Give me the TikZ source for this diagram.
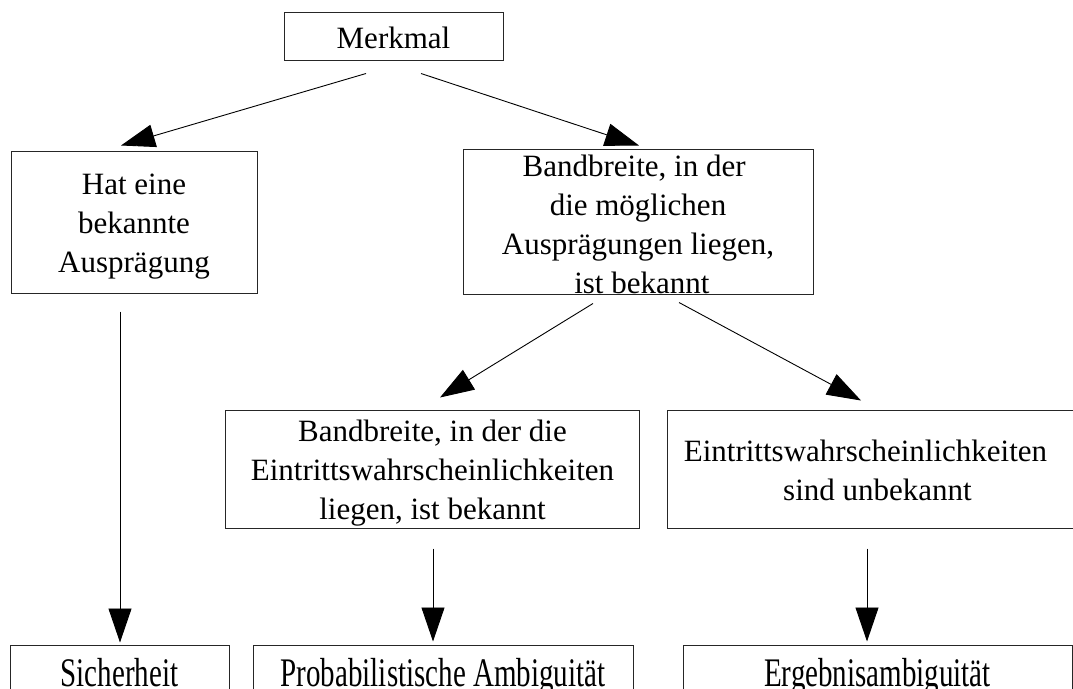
\documentclass[tikz,border=0pt]{standalone}
\usepackage{fontspec}
\usepackage{graphicx}
\setmainfont{Liberation Serif}
\usetikzlibrary{arrows.meta,calc}

\tikzset{
  box/.style={draw=black!85, line width=1pt, rectangle, inner sep=0pt},
  txt/.style={inner sep=0pt, align=center, font=\fontsize{31}{39}\selectfont},
  btxt/.style={inner sep=0pt, font=\fontsize{29}{35}\selectfont},
  arr/.style={line width=0.9pt, -{Triangle[length=34pt,width=23pt]}},
}

\begin{document}
\begin{tikzpicture}[x=1pt,y=-1pt]
  \useasboundingbox (0,0) rectangle (1073,688);
  \fill[white] (0,0) rectangle (1073,688);
  \clip (0,0) rectangle (1073,688);

  % boxes
  \node[box, minimum width=219pt, minimum height=48pt]  (m)  at (393.5,36)  {};
  \node[box, minimum width=246pt, minimum height=142pt] (h)  at (134,222)   {};
  \node[box, minimum width=350pt, minimum height=145pt] (b2) at (638,221.5) {};
  \node[box, minimum width=414pt, minimum height=118pt] (b3) at (432,469)   {};
  \node[box, minimum width=410pt, minimum height=118pt] (b4) at (872,469)   {};
  \node[box, minimum width=219pt, minimum height=60pt]  (s)  at (119.5,675) {};
  \node[box, minimum width=380pt, minimum height=60pt]  (p)  at (443,675)   {};
  \node[box, minimum width=389pt, minimum height=60pt]  (e)  at (877.5,675) {};

  % box texts
  \node[txt, anchor=base] (tm) at ($(m.center)+(0,12.3)$) {Merkmal};
  \node[txt] (th) at ($(h.center)+(0,3.7)$)
    {\strut Hat eine\\\strut bekannte\\\strut Ausprägung};
  \node[txt] (tb2) at ($(b2.center)+(0,5.6)$)
    {\strut Bandbreite, in der\hspace*{7.75pt}\\\strut die möglichen\hspace*{7.75pt}\\\strut Ausprägungen liegen,\\\strut\hspace*{7.75pt}ist bekannt};
  \node[txt] (tb3) at ($(b3.center)+(0.5,3.2)$)
    {\strut Bandbreite, in der die\\\strut Eintrittswahrscheinlichkeiten\\\strut liegen, ist bekannt};
  \node[txt] (tb4) at ($(b4.center)+(-0.5,4.4)$)
    {\strut Eintrittswahrscheinlichkeiten\hspace*{12pt}\\\strut\hspace*{12pt}sind unbekannt};
  \node[btxt, anchor=base] (ts) at ($(s.north)+(0,42)$) {\scalebox{1}[1.4]{Sicherheit}};
  \node[btxt, anchor=base] (tp) at ($(p.north)+(0,42)$) {\scalebox{1}[1.4]{Probabilistische Ambiguität}};
  \node[btxt, anchor=base] (te) at ($(e.north)+(0,42)$) {\scalebox{1}[1.4]{Ergebnisambiguität}};

  % connectors
  \draw[arr] ($(m.south)+(-27.5,13)$) -- ($(h.north)+(-13,-5)$);
  \draw[arr] ($(m.south)+(27.5,13)$)  -- ($(b2.north)+(1,-3)$);
  \draw[arr] ($(b2.south)+(-45,9)$)   -- ($(b3.north)+(8,-12)$);
  \draw[arr] ($(b2.south)+(41,8)$)    -- ($(b4.north)+(-11,-9)$);
  \draw[arr] ($(h.south)+(-14,18)$)   -- ($(s.north)+(0.5,-2)$);
  \draw[arr] ($(b3.south)+(1,20)$)    -- ($(p.north)+(-10,-3)$);
  \draw[arr] ($(b4.south)+(-5,20)$)   -- ($(e.north)+(-10.5,-3)$);
\end{tikzpicture}
\end{document}
